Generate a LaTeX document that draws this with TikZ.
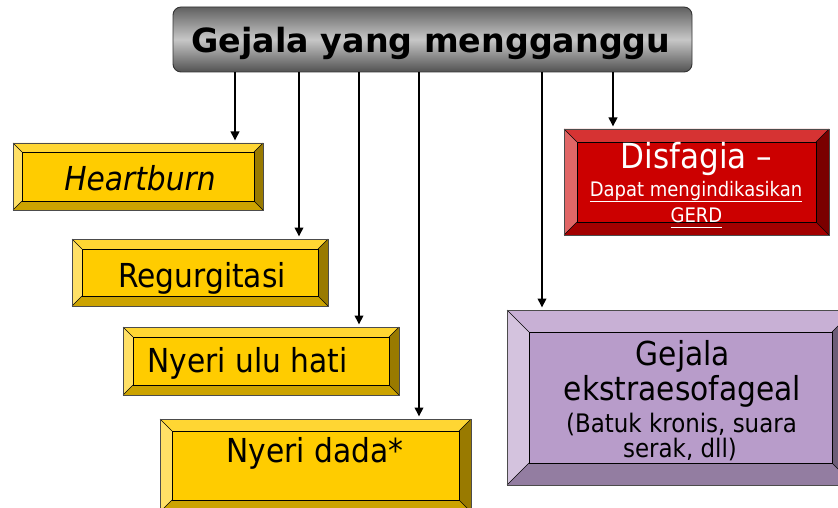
\documentclass[tikz,border=0pt]{standalone}
\usepackage{fontspec}
\setmainfont{DejaVu Sans}[FakeStretch=0.9]
\newfontfamily\titlefont{DejaVu Sans}
\usetikzlibrary{arrows.meta,fit}
\definecolor{yT}{HTML}{FFD633}
\definecolor{yL}{HTML}{FFE066}
\definecolor{yR}{HTML}{997A00}
\definecolor{yB}{HTML}{CCA300}
\definecolor{yF}{HTML}{FFCC00}
\definecolor{rT}{HTML}{D63333}
\definecolor{rL}{HTML}{E06666}
\definecolor{rR}{HTML}{7A0000}
\definecolor{rB}{HTML}{A30000}
\definecolor{rF}{HTML}{CC0000}
\definecolor{pT}{HTML}{C8B0D5}
\definecolor{pL}{HTML}{D4C3DE}
\definecolor{pR}{HTML}{6E5D78}
\definecolor{pB}{HTML}{937DA1}
\definecolor{pF}{HTML}{B89CCA}
\tikzset{
  arr/.style={line width=2pt,-{Triangle[width=8.5pt,length=9pt]},shorten >=2.5pt},
  facerim/.style={draw=black,line width=0.7pt},
  outerrim/.style={draw=black!70,line width=0.8pt},
  diag/.style={draw=black,line width=0.6pt},
  lbl/.style={anchor=base,inner sep=0pt,font=\fontsize{33}{36}\selectfont},
  small/.style={anchor=base,inner sep=0pt,font=\fontsize{25.5}{28}\selectfont},
  tiny/.style={anchor=base,inner sep=0pt,font=\fontsize{20}{22}\selectfont,text=white},
  topbox/.style={draw=black!80,line width=0.9pt,rounded corners=8pt,
    top color=black!62,bottom color=black!68,middle color=black!22,
    inner sep=0pt,outer sep=0pt,anchor=north west},
}
% name, x1, y1, x2, y2, bevel, colour prefix
\newcommand\bevbox[7]{%
  \path (#2,#3) coordinate (#1nw) (#4,#5) coordinate (#1se);
  \fill[#7T] (#2,#3) -- (#4,#3) -- ({#4-#6},{#3+#6}) -- ({#2+#6},{#3+#6}) -- cycle;
  \fill[#7L] (#2,#3) -- ({#2+#6},{#3+#6}) -- ({#2+#6},{#5-#6}) -- (#2,#5) -- cycle;
  \fill[#7R] (#4,#3) -- (#4,#5) -- ({#4-#6},{#5-#6}) -- ({#4-#6},{#3+#6}) -- cycle;
  \fill[#7B] (#2,#5) -- (#4,#5) -- ({#4-#6},{#5-#6}) -- ({#2+#6},{#5-#6}) -- cycle;
  \draw[facerim,fill=#7F] ({#2+#6},{#3+#6}) rectangle ({#4-#6},{#5-#6});
  \draw[diag] (#2,#3) -- ({#2+#6},{#3+#6}) (#4,#3) -- ({#4-#6},{#3+#6})
              (#2,#5) -- ({#2+#6},{#5-#6}) (#4,#5) -- ({#4-#6},{#5-#6});
  \node[inner sep=0pt,outer sep=0pt,fit=(#1nw)(#1se),outerrim] (#1) {};
}
\begin{document}
\begin{tikzpicture}[x=1pt,y=-1pt]
\useasboundingbox (0,0) rectangle (838,508);
\clip (0,0) rectangle (838,508);
\fill[white] (0,0) rectangle (838,508);

% top box
\node[topbox,minimum width=519pt,minimum height=65pt] (top) at (173,7) {};
\node[anchor=base,inner sep=0pt,font=\titlefont\bfseries\fontsize{33.3}{36}\selectfont,text=black] (toptxt) at (431,53) {Gejala yang mengganggu};

% boxes
\bevbox{hb}{13}{143}{263}{210}{9}{y}
\bevbox{rg}{72}{239}{328}{306}{10}{y}
\bevbox{nu}{123}{327}{399}{395}{10}{y}
\bevbox{nd}{160}{419}{471}{512}{12}{y}
\bevbox{ds}{564}{129}{829}{235}{13}{r}
\bevbox{ex}{507}{310}{854}{485}{22}{p}

% texts
\node[lbl,font=\fontsize{33}{36}\selectfont\itshape] (hbt) at (140,190) {Heartburn};
\node[lbl] (rgt) at (202,287) {Regurgitasi};
\node[lbl] (nut) at (247.5,372) {Nyeri ulu hati};
\node[lbl] (ndt) at (315,462) {Nyeri dada*};
\node[lbl,font=\fontsize{34.5}{36}\selectfont,text=white] (dst1) at (696.5,168) {Disfagia –};
\node[tiny] (dst2) at (696,196) {\underline{Dapat mengindikasikan}};
\node[tiny] (dst3) at (696.5,222) {\underline{GERD\vphantom{p}}};
\node[lbl] (ext1) at (683,365) {Gejala};
\node[lbl] (ext2) at (682.5,400) {ekstraesofageal};
\node[small] (ext3) at (681.5,432) {(Batuk kronis, suara};
\node[small] (ext4) at (680,457) {serak, dll)};

% arrows
\coordinate (a1) at (235,0);
\coordinate (a2) at (299,0);
\coordinate (a3) at (359,0);
\coordinate (a4) at (419,0);
\coordinate (a5) at (542,0);
\coordinate (a6) at (613,0);
\draw[arr] (top.south -| a1) -- (hb.north -| a1);
\draw[arr] (top.south -| a2) -- (rg.north -| a2);
\draw[arr] (top.south -| a3) -- (nu.north -| a3);
\draw[arr] (top.south -| a4) -- (nd.north -| a4);
\draw[arr] (top.south -| a5) -- (ex.north -| a5);
\draw[arr] (top.south -| a6) -- (ds.north -| a6);
\end{tikzpicture}
\end{document}
